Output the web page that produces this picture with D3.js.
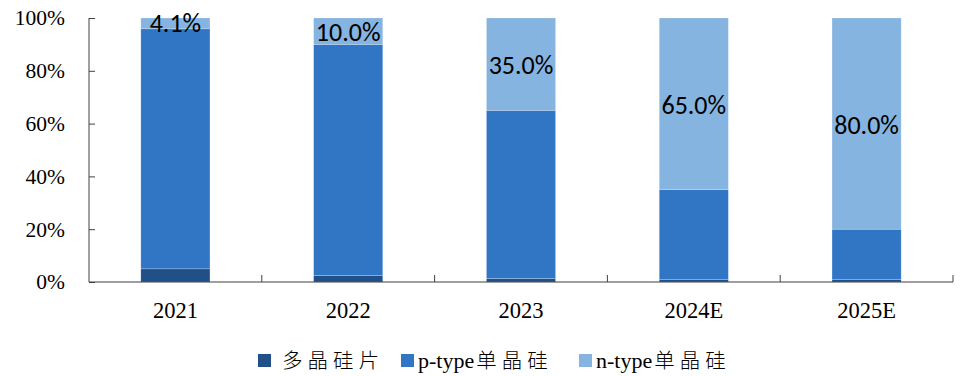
<!DOCTYPE html>
<html>
<head>
<meta charset="utf-8">
<script src="https://cdn.jsdelivr.net/npm/d3@7/dist/d3.min.js"></script>
<style>
  html, body { margin: 0; padding: 0; background: #fff; }
  svg { display: block; }
</style>
</head>
<body>
<svg id="chart" width="963" height="376"></svg>
<script>
// Wafer type market share by year (stacked to 100%)
const years = ["2021", "2022", "2023", "2024E", "2025E"];
const polySi = [5.0, 2.5, 1.3, 1.0, 1.0];          // 多晶硅片
const pTypeMono = [90.9, 87.5, 63.7, 34.0, 19.0];   // p-type单晶硅
const nTypeMono = [4.1, 10.0, 35.0, 65.0, 80.0];    // n-type单晶硅
const yTicks = [0, 20, 40, 60, 80, 100];
const seriesLatin = ["", "p-type", "n-type"];
const seriesCJK = ["多晶硅片", "单晶硅", "单晶硅"];
const seriesColors = ["#214f87", "#3176c5", "#86b4e0"];

const svg = d3.select("#chart");
const x0 = 89, x1 = 953, yTop = 18, yBot = 282;

const x = d3.scaleBand().domain(years).range([x0, x1]).paddingInner(0.6).paddingOuter(0.3);
const y = d3.scaleLinear().domain([0, 100]).range([yBot, yTop]);

const rows = years.map((yr, i) => ({ year: yr, poly: polySi[i], p: pTypeMono[i], n: nTypeMono[i] }));
const stack = d3.stack().keys(["poly", "p", "n"]);
const layers = stack(rows);

svg.append("g").selectAll("g")
  .data(layers)
  .join("g")
  .attr("fill", (d, i) => seriesColors[i])
  .selectAll("rect")
  .data(d => d)
  .join("rect")
  .attr("x", d => x(d.data.year))
  .attr("width", x.bandwidth())
  .attr("y", d => y(d[1]))
  .attr("height", d => y(d[0]) - y(d[1]))
  .attr("stroke", "rgba(255,255,255,0.35)")
  .attr("stroke-width", 0.6);

// n-type share labels, centered in their segment
const nLayer = layers[2];
svg.append("g").selectAll("text")
  .data(nLayer)
  .join("text")
  .attr("x", d => x(d.data.year) + x.bandwidth() / 2)
  .attr("y", (d, i) => (y(d[0]) + y(d[1])) / 2 + (i === 0 ? 2 : 4))
  .attr("text-anchor", "middle")
  .attr("dominant-baseline", "middle")
  .attr("font-family", "Carlito, Lato, 'Open Sans', sans-serif")
  .attr("font-size", 26)
  .attr("fill", "#000")
  .text(d => d.data.n.toFixed(1) + "%");

// Y axis
const yAxis = d3.axisLeft(y).tickValues(yTicks).tickSize(-6).tickPadding(24).tickFormat(d => d + "%");
const gy = svg.append("g").attr("transform", `translate(${x0},0)`).call(yAxis);
gy.select(".domain").attr("stroke", "#404040").attr("d", `M0,${yTop}V${yBot}`);
gy.selectAll(".tick line").attr("stroke", "#404040");
gy.selectAll("text")
  .attr("font-family", "'Liberation Serif', 'Times New Roman', serif")
  .attr("font-size", 21.5)
  .attr("fill", "#000");

// X axis with boundary ticks between categories
svg.append("line")
  .attr("x1", x0).attr("x2", x1).attr("y1", yBot).attr("y2", yBot)
  .attr("stroke", "#404040").attr("stroke-width", 1.2);
const step = x.step();
const boundaries = years.map(yr => x(yr) + x.bandwidth() / 2 + step / 2);
svg.append("g").selectAll("line")
  .data(boundaries)
  .join("line")
  .attr("x1", d => d).attr("x2", d => d)
  .attr("y1", yBot).attr("y2", yBot - 7)
  .attr("stroke", "#404040");
svg.append("g").selectAll("text")
  .data(years)
  .join("text")
  .attr("x", d => x(d) + x.bandwidth() / 2)
  .attr("y", 318)
  .attr("text-anchor", "middle")
  .attr("font-family", "'Liberation Serif', 'Times New Roman', serif")
  .attr("font-size", 22.5)
  .attr("fill", "#000")
  .text(d => d);

// Legend
const legendX = [258, 401, 579];
const lg = svg.append("g").selectAll("g")
  .data(seriesCJK)
  .join("g")
  .attr("transform", (d, i) => `translate(${legendX[i]},354)`);
lg.append("rect").attr("width", 13).attr("height", 13).attr("fill", (d, i) => seriesColors[i]);
const lt = lg.append("text")
  .attr("x", (d, i) => i === 0 ? 22 : 17)
  .attr("y", 14)
  .attr("fill", "#000");
lt.append("tspan")
  .attr("font-family", "'Liberation Serif', 'Times New Roman', serif")
  .attr("font-size", 22)
  .text((d, i) => seriesLatin[i]);
lt.append("tspan")
  .attr("dx", 2)
  .attr("font-family", "'Noto Sans CJK SC', sans-serif")
  .attr("font-size", 20.5)
  .attr("font-weight", 300)
  .attr("letter-spacing", 5)
  .text(d => d);
</script>
</body>
</html>
